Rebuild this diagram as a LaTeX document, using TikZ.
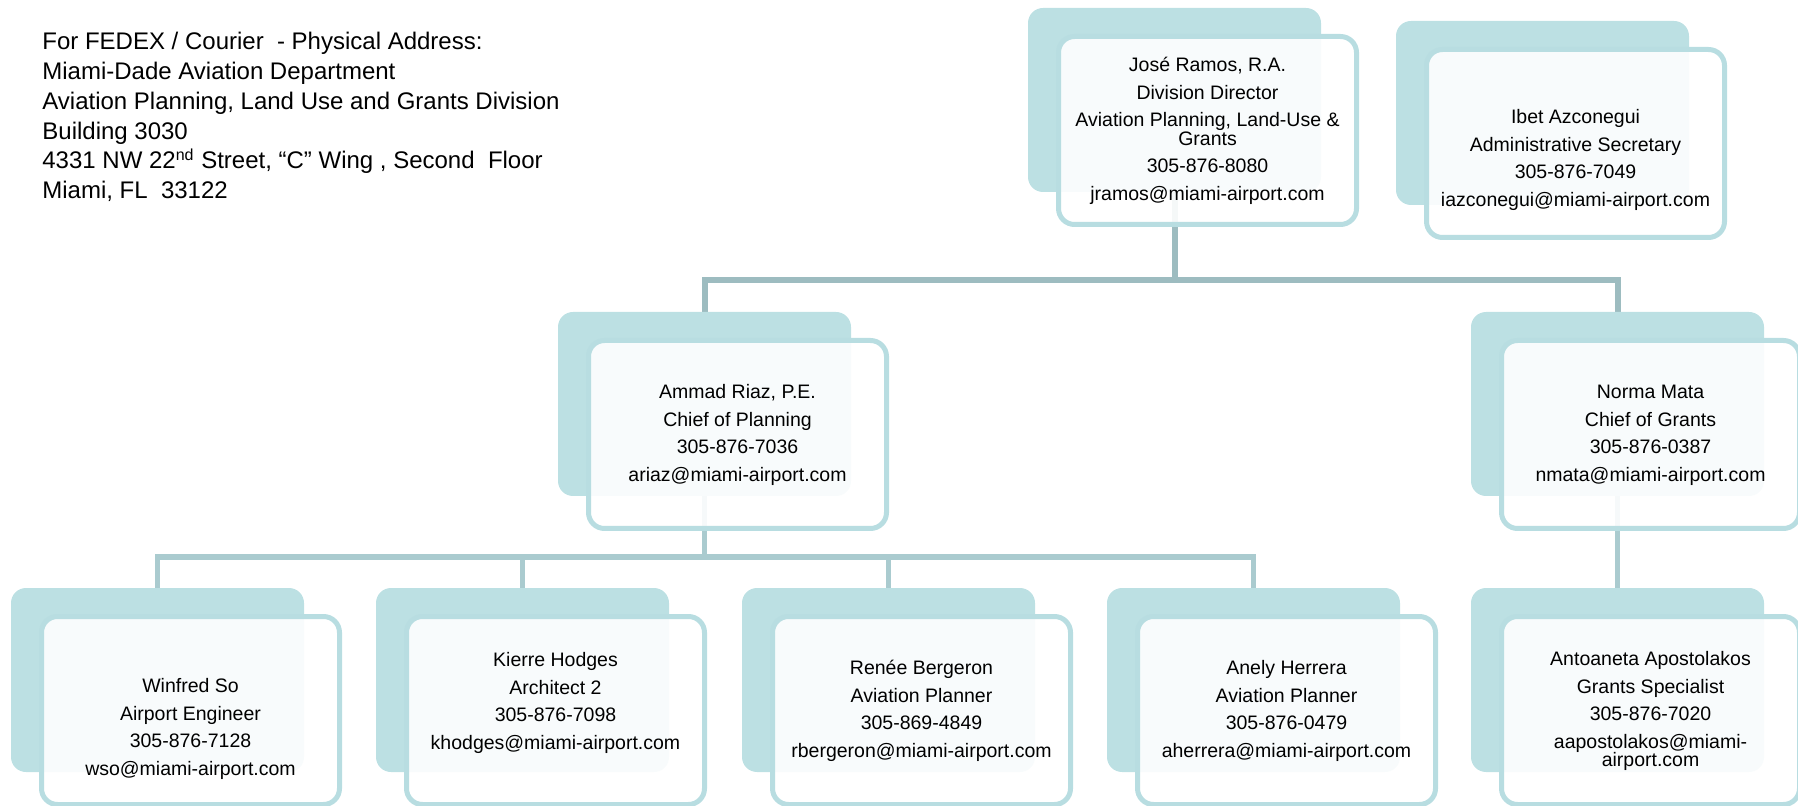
\documentclass[tikz,border=0pt]{standalone}
\usepackage{fontspec}
\setmainfont{Liberation Sans}
\usetikzlibrary{calc}
\pgfdeclarelayer{background}
\pgfsetlayers{background,main}
\definecolor{backc}{HTML}{BCE0E3}
\definecolor{framec}{HTML}{B8DDE1}
\definecolor{connA}{HTML}{9DBCC0}
\definecolor{connB}{HTML}{AACBCF}
\tikzset{
  backbox/.style={fill=backc, draw=none, rounded corners=7.5pt, minimum width=146.5pt, minimum height=92pt, anchor=north west, inner sep=0pt, outer sep=0pt},
  frontbox/.style={draw=framec, line width=2.5pt, fill=white, fill opacity=0.9, text opacity=1, rounded corners=8pt, minimum width=149pt, minimum height=94pt, anchor=north west, align=center, inner sep=0pt, outer sep=0pt, font=\fontsize{9.75pt}{13.75pt}\selectfont},
  connt/.style={line width=3pt, draw=connA, line join=miter},
  connb/.style={line width=2.6pt, draw=connB, line join=miter},
  addr/.style={anchor=north west, align=left, inner sep=0pt, font=\fontsize{12pt}{14.9pt}\selectfont}
}
% #1 name, #2 x, #3 y, #4 vertical text shift (pt, downward), #5 text
\newcommand\personbox[5]{%
  \node[backbox] (#1b) at (#2,#3) {};
  \path (#2,#3) ++(30.5,28.5) node[frontbox] (#1) {\raisebox{-#4}[\height][\depth]{\begin{tabular}{@{}c@{}}#5\end{tabular}}};
}
\begin{document}
\begin{tikzpicture}[x=0.5pt,y=-0.5pt]
\useasboundingbox (0,0) rectangle (1798,806);

\node[addr] (address) at (42,32) {For FEDEX / Courier~ - Physical Address:\\
Miami-Dade Aviation Department\\
Aviation Planning, Land Use and Grants Division\\
Building 3030\\
4331 NW 22\textsuperscript{nd} Street, “C” Wing , Second~ Floor\\
Miami, FL~ 33122};

\personbox{jr}{1028}{8}{0pt}{José Ramos, R.A.\\Division Director\\Aviation Planning, Land-Use \&\\[-4.5pt]Grants\\305-876-8080\\jramos@miami-airport.com}
\personbox{ia}{1396}{21}{8pt}{Ibet Azconegui\\Administrative Secretary\\305-876-7049\\iazconegui@miami-airport.com}
\personbox{am}{558}{312}{0pt}{Ammad Riaz, P.E.\\Chief of Planning\\305-876-7036\\ariaz@miami-airport.com}
\personbox{nm}{1471}{312}{0pt}{Norma Mata\\Chief of Grants\\305-876-0387\\nmata@miami-airport.com}
\personbox{ws}{11}{588}{9pt}{Winfred So\\Airport Engineer\\305-876-7128\\wso@miami-airport.com}
\personbox{kh}{376}{588}{-4pt}{Kierre Hodges\\Architect 2\\305-876-7098\\khodges@miami-airport.com}
\personbox{rb}{742}{588}{0pt}{Renée Bergeron\\Aviation Planner\\305-869-4849\\rbergeron@miami-airport.com}
\personbox{ah}{1107}{588}{0pt}{Anely Herrera\\Aviation Planner\\305-876-0479\\aherrera@miami-airport.com}
\personbox{aa}{1471}{588}{0pt}{Antoaneta Apostolakos\\Grants Specialist\\305-876-7020\\aapostolakos@miami-\\[-4.5pt]airport.com}

\coordinate (topbar) at (0,280);
\coordinate (midbar) at (0,557);
\begin{pgfonlayer}{background}
  \draw[connt] (amb.north) |- (jrb.south |- topbar) -| (nmb.north);
  \draw[connt] (jrb.south) -- (jrb.south |- topbar);
  \draw[connb] (wsb.north) |- (amb.south |- midbar) -| (ahb.north);
  \draw[connb] (amb.south) -- (amb.south |- midbar);
  \draw[connb] (khb.north) -- (khb.north |- midbar);
  \draw[connb] (rbb.north) -- (rbb.north |- midbar);
  \draw[connb] (nmb.south) -- (aab.north);
\end{pgfonlayer}
\end{tikzpicture}
\end{document}
